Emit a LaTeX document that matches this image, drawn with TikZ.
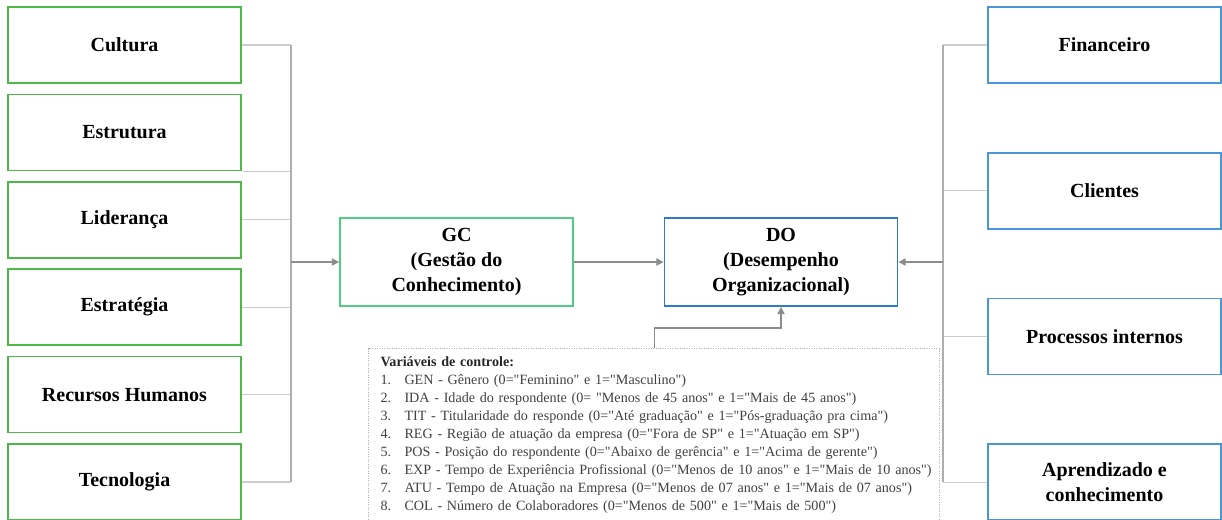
\documentclass[tikz,border=0pt]{standalone}
\usepackage{fontspec}
\setmainfont{Liberation Serif}[Ligatures=TeXOff]
\usepackage{tikz}
\usetikzlibrary{arrows.meta, positioning}
\usepackage{xcolor}
\definecolor{factorgreen}{RGB}{76, 185, 72}
\definecolor{gcgreen}{RGB}{80, 205, 130}
\definecolor{perspblue}{RGB}{74, 150, 215}
\definecolor{doblue}{RGB}{46, 125, 195}
\definecolor{linegray}{RGB}{205, 205, 205}
\definecolor{busgray}{RGB}{175, 175, 175}
\definecolor{arrowgray}{RGB}{140, 140, 140}
\newcommand{\ctrlitem}[2]{\hspace*{7pt}\makebox[18pt][l]{#1}#2}

\begin{document}
\begin{tikzpicture}[
    x=0.75pt, y=-0.75pt,
    node distance=7.25pt,
    % 因素样式
    factor/.style={
        rectangle, draw=factorgreen, line width=1.3pt,
        minimum width=174.75pt, minimum height=57pt,
        align=center, font=\fontsize{15}{19}\selectfont\bfseries
    },
    % 绩效维度样式
    persp/.style={factor, draw=perspblue},
    % 中心模块样式
    central/.style={factor, minimum height=66pt},
    % 控制变量框样式
    ctrlbox/.style={
        rectangle, draw=gray!60, densely dotted, line width=0.8pt,
        minimum width=428pt, minimum height=130.5pt,
        text width=424pt, inner xsep=2pt, inner ysep=3pt,
        align=left, text=black!75, font=\fontsize{10.6}{13.5}\selectfont
    },
    % 连线样式
    branch/.style={linegray, line width=1pt},
    bus/.style={busgray, line width=1pt},
    arrow/.style={-{Triangle[length=5.5pt, width=5.5pt]}, arrowgray, line width=1pt},
]
\useasboundingbox (0,0) rectangle (1222,519);

% ==================== 左侧因素 ====================
\node[factor] at (124.5,45) (cultura) {Cultura};
\node[factor, below=of cultura] (estrutura) {Estrutura};
\node[factor, below=of estrutura] (lideranca) {Liderança};
\node[factor, below=of lideranca] (estrategia) {Estratégia};
\node[factor, below=of estrategia] (rh) {Recursos Humanos};
\node[factor, below=of rh] (tecnologia) {Tecnologia};

% ==================== 中心模块 ====================
\node[central, draw=gcgreen] at (456.5,262) (gc) {GC\\(Gestão do\\Conhecimento)};
\node[central, draw=doblue] at (781,262) (dorg) {DO\\(Desempenho\\Organizacional)};

% ==================== 右侧维度 ====================
\node[persp] at (1104.5,45) (financeiro) {Financeiro};
\node[persp, below=51pt of financeiro] (clientes) {Clientes};
\node[persp, below=51pt of clientes] (processos) {Processos internos};
\node[persp, below=51pt of processos] (aprendizado) {Aprendizado e\\conhecimento};

% ==================== 控制变量 ====================
\node[ctrlbox, anchor=north west] at (368,348) (ctrl) {%
    \hspace*{7pt}\textcolor{black!85}{\textbf{Variáveis de controle:}}\\
    \ctrlitem{1.}{GEN - Gênero (0="Feminino" e 1="Masculino")}\\
    \ctrlitem{2.}{IDA - Idade do respondente (0= "Menos de 45 anos" e 1="Mais de 45 anos")}\\
    \ctrlitem{3.}{TIT - Titularidade do responde (0="Até graduação" e 1="Pós-graduação pra cima")}\\
    \ctrlitem{4.}{REG - Região de atuação da empresa (0="Fora de SP" e 1="Atuação em SP")}\\
    \ctrlitem{5.}{POS - Posição do respondente (0="Abaixo de gerência" e 1="Acima de gerente")}\\
    \ctrlitem{6.}{EXP - Tempo de Experiência Profissional (0="Menos de 10 anos" e 1="Mais de 10 anos")}\\
    \ctrlitem{7.}{ATU - Tempo de Atuação na Empresa (0="Menos de 07 anos" e 1="Mais de 07 anos")}\\
    \ctrlitem{8.}{COL - Número de Colaboradores (0="Menos de 500" e 1="Mais de 500")}};

% ==================== 连线 ====================
\coordinate (lbus) at (291,262);
\foreach \n in {cultura, lideranca, estrategia, rh, tecnologia}
    \draw[branch] (\n.east) -- (\n.east -| lbus);
\draw[branch] (estrutura.south east) -- (estrutura.south east -| lbus);
\draw[bus] (cultura.east -| lbus) -- (tecnologia.east -| lbus);
\draw[arrow] (lbus) -- (gc.west);

\coordinate (rbus) at (943,262);
\foreach \n in {financeiro, clientes, processos, aprendizado}
    \draw[branch] (\n.west) -- (\n.west -| rbus);
\draw[bus] (financeiro.west -| rbus) -- (aprendizado.west -| rbus);
\draw[arrow] (rbus) -- (dorg.east);

\draw[arrow] (gc) -- (dorg);
\draw[arrow] ([xshift=215pt]ctrl.north west) -- ++(0,-20) -| (dorg.south);

\end{tikzpicture}
\end{document}
